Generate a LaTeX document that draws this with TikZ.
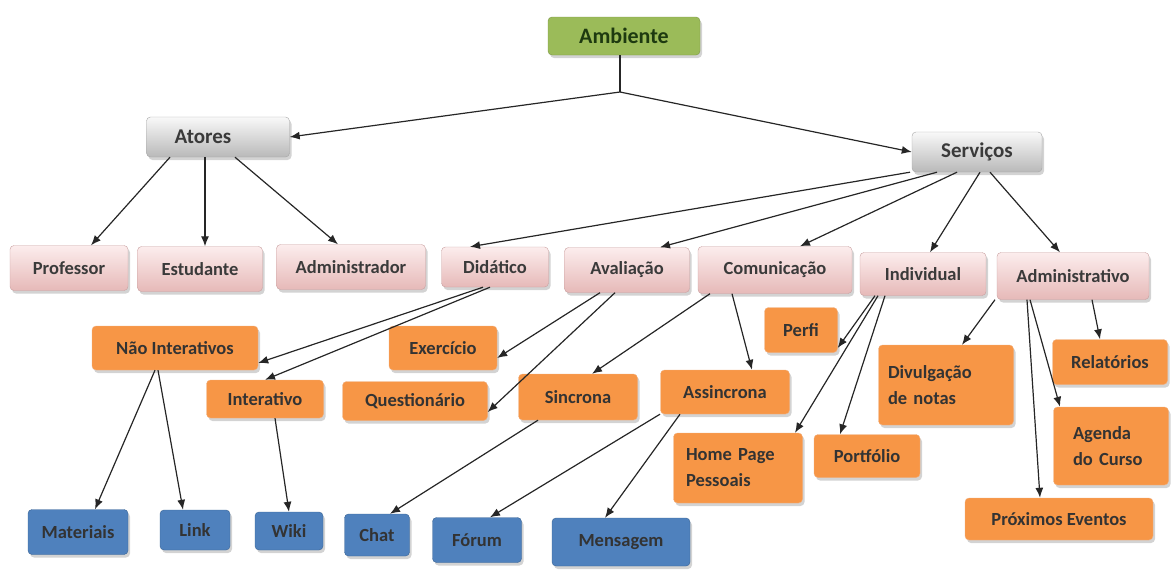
\documentclass[tikz,border=0pt]{standalone}
\usepackage{fontspec}
\setmainfont{Carlito}
\usetikzlibrary{shadows,arrows.meta}
\definecolor{grn}{HTML}{9BBB59}
\definecolor{grntxt}{HTML}{1E3A10}
\definecolor{pinkT}{HTML}{FCEDED}
\definecolor{pinkB}{HTML}{E6B9B8}
\definecolor{pinkD}{HTML}{C9A0A0}
\definecolor{org}{HTML}{F79646}
\definecolor{orgD}{HTML}{F0B080}
\definecolor{blu}{HTML}{4F81BD}
\definecolor{bluD}{HTML}{3A6494}
\definecolor{txt}{HTML}{3A3A3A}
\tikzset{
  base/.style={rounded corners=4pt, font=\fontsize{18.5}{26}\selectfont\bfseries, align=left,
    drop shadow={opacity=0.35, shadow xshift=2pt, shadow yshift=-3pt}},
  gbox/.style={base, draw=grn!80!black, fill=grn, text=grntxt, minimum height=38pt, font=\fontsize{22}{24}\selectfont\bfseries},
  graybox/.style={base, draw=gray!70, top color=gray!5, bottom color=gray!55, text=txt, minimum height=40pt, font=\fontsize{21}{24}\selectfont\bfseries},
  pbox/.style={base, draw=pinkD, top color=pinkT, bottom color=pinkB, text=txt, minimum height=45pt},
  obox/.style={base, draw=orgD, fill=org, text=black!80, minimum height=42pt},
  bbox/.style={base, draw=bluD, fill=blu, text=black!80, minimum height=42pt},
  arr/.style={draw=black!85, line width=1.2pt, -{Latex[length=10pt,width=8pt]}},
  ln/.style={draw=black!85, line width=1.2pt}
}
\begin{document}
\begin{tikzpicture}[x=1pt,y=-1pt]
\useasboundingbox (0,0) rectangle (1173,570);
% top
\node[gbox, minimum width=152pt] (amb) at (624,36) {Ambiente};
\node[graybox, minimum width=143pt] (ato) at (218,137) {\hspace*{-30pt}Atores};
\node[graybox, minimum width=130pt] (ser) at (977,152) {Serviços};
% pink
\node[pbox, minimum width=118pt] (prof) at (69,268) {Professor};
\node[pbox, minimum width=125pt] (est) at (200,269) {Estudante};
\node[pbox, minimum width=149pt] (adm) at (351,267) {Administrador};
\node[pbox, minimum width=107pt, minimum height=40pt] (did) at (495,267) {Didático};
\node[pbox, minimum width=125pt] (ava) at (627,270) {Avaliação};
\node[pbox, minimum width=154pt, minimum height=47pt] (com) at (775,270) {Comunicação};
\node[pbox, minimum width=126pt, minimum height=43pt] (ind) at (923,274) {Individual};
\node[pbox, minimum width=152pt, minimum height=47pt] (admv) at (1073,276) {Administrativo};
% orange
\node[obox, minimum width=166pt, minimum height=44pt] (nint) at (175,348) {Não Interativos};
\node[obox, minimum width=108pt, minimum height=44pt] (exe) at (443,348) {Exercício};
\node[obox, minimum width=117pt, minimum height=38pt] (int) at (265,399) {Interativo};
\node[obox, minimum width=145pt, minimum height=39pt] (que) at (415,401) {Questionário};
\node[obox, minimum width=73pt, minimum height=45pt] (per) at (801,330) {Perfi};
\node[obox, minimum width=119pt, minimum height=46pt] (sin) at (578,397) {Sincrona};
\node[obox, minimum width=129pt, minimum height=44pt] (ass) at (725,392) {Assincrona};
\node[obox, minimum width=135pt, minimum height=80pt, text width=116pt] (div) at (946,385) {Divulgação\\de notas};
\node[obox, minimum width=115pt, minimum height=45pt] (rel) at (1110,362) {Relatórios};
\node[obox, minimum width=129pt, minimum height=70pt, text width=104pt] (hom) at (738,468) {Home Page\\Pessoais};
\node[obox, minimum width=115pt, minimum height=78pt, text width=76pt] (age) at (1111,446) {Agenda\\do Curso};
\node[obox, minimum width=106pt, minimum height=43pt] (por) at (867,456) {Portfólio};
\node[obox, minimum width=188pt, minimum height=42pt] (pro) at (1059,519) {Próximos Eventos};
% blue
\node[bbox, minimum width=100pt, minimum height=45pt] (mat) at (78,532) {Materiais};
\node[bbox, minimum width=70pt, minimum height=40pt] (lin) at (195,530) {Link};
\node[bbox, minimum width=68pt, minimum height=38pt] (wik) at (289,531) {Wiki};
\node[bbox, minimum width=65pt, minimum height=42pt] (cha) at (377,535) {Chat};
\node[bbox, minimum width=89pt, minimum height=45pt] (for) at (477,540) {Fórum};
\node[bbox, minimum width=138pt, minimum height=48pt] (men) at (621,542) {Mensagem};
% connectors
\coordinate (j) at (620,92);
\draw[ln] (amb.south -| j) -- (j);
\draw[arr] (j) -- (ato.east);
\draw[arr] (j) -- (ser.west);
\draw[arr] ([xshift=-48pt]ato.south) -- ([xshift=22pt]prof.north);
\draw[arr] ([xshift=-13pt]ato.south) -- ([xshift=5pt]est.north);
\draw[arr] ([xshift=17pt]ato.south) -- ([xshift=-13pt]adm.north);
\draw[arr] ([xshift=-67pt]ser.south) -- ([xshift=-25pt]did.north);
\draw[arr] ([xshift=-40pt]ser.south) -- ([xshift=33pt]ava.north);
\draw[arr] ([xshift=-20pt]ser.south) -- ([xshift=25pt]com.north);
\draw[arr] ([xshift=3pt]ser.south) -- ([xshift=7pt]ind.north);
\draw[arr] ([xshift=13pt]ser.south) -- ([xshift=-13pt]admv.north);
\draw[arr] ([xshift=-12pt]did.south) -- ([yshift=-15pt]nint.east);
\draw[arr] ([xshift=-5pt]did.south) -- (int.north);
\draw[arr] ([xshift=-27pt]ava.south) -- ([yshift=-10pt]exe.east);
\draw[arr] ([xshift=-12pt]ava.south) -- ([yshift=-11pt]que.east);
\draw[arr] ([xshift=-65pt]com.south) -- ([xshift=14pt]sin.north);
\draw[arr] ([xshift=-43pt]com.south) -- ([xshift=27pt]ass.north);
\draw[arr] ([xshift=-48pt]ind.south) -- ([yshift=-18pt]per.east);
\draw[arr] ([xshift=-45pt]ind.south) -- ([xshift=57pt]hom.north);
\draw[arr] ([xshift=-38pt]ind.south) -- ([xshift=-27pt]por.north);
\draw[arr] ([xshift=-78pt]admv.south) -- ([xshift=16pt]div.north);
\draw[arr] ([xshift=19pt]admv.south) -- ([xshift=-10pt]rel.north);
\draw[arr] ([xshift=-43pt]admv.south) -- ([xshift=-51pt]age.north);
\draw[arr] ([xshift=-46pt]admv.south) -- ([xshift=-19pt]pro.north);
\draw[arr] ([xshift=-20pt]nint.south) -- ([xshift=17pt]mat.north);
\draw[arr] ([xshift=-17pt]nint.south) -- ([xshift=-12pt]lin.north);
\draw[arr] ([xshift=10pt]int.south) -- (wik.north);
\draw[arr] ([xshift=-40pt]sin.south) -- ([xshift=13pt]cha.north);
\draw[arr] ([xshift=-65pt]ass.south) -- ([xshift=13pt]for.north);
\draw[arr] ([xshift=-45pt]ass.south) -- ([xshift=-16pt]men.north);
\end{tikzpicture}
\end{document}
